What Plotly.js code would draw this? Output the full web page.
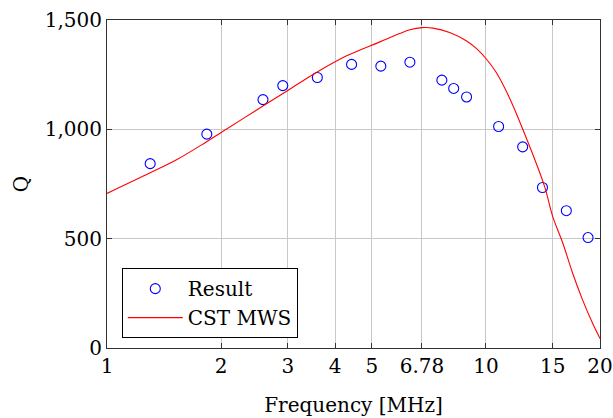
<!DOCTYPE html>
<html>
<head>
<meta charset="utf-8">
<script src="https://cdn.plot.ly/plotly-3.0.1.min.js"></script>
<style>html,body{margin:0;padding:0;background:#fff;}#chart{width:613px;height:418px;}</style>
</head>
<body>
<div id="chart"></div>
<script>
// Measured results
const resultFreq = [1.30, 1.834, 2.58, 2.91, 3.59, 4.42, 5.28, 6.30, 7.65, 8.22, 8.89, 10.8, 12.5, 14.1, 16.3, 18.6];
const resultQ    = [843, 978, 1136, 1200, 1237, 1297, 1289, 1307, 1225, 1187, 1148, 1013, 920, 734, 628, 505];

// CST MWS simulation curve
const cstFreq = [1.0, 1.3, 1.53, 1.815, 2.01, 2.46, 3.0, 3.57, 4.29, 5.25, 5.92, 6.3, 6.78, 7.25, 8.02, 8.87, 9.43, 10.0, 10.65, 11.42, 12.51, 14.27, 15.0, 15.95, 16.93, 17.99, 19.12, 20.0];
const cstQ    = [707, 801, 862, 939, 988, 1084, 1178, 1260, 1336, 1400, 1438, 1455, 1465, 1463, 1443, 1405, 1370, 1324, 1260, 1160, 1000, 740, 602, 480, 343, 220, 113, 44];

const xTickVals = [1, 2, 3, 4, 5, 6.78, 10, 15, 20];
const xTickText = ['1', '2', '3', '4', '5', '6.78', '10', '15', '20'];
const yTickVals = [0, 500, 1000, 1500];
const yTickText = ['0', '500', '1,000', '1,500'];

const FONT = 'DejaVu Serif, serif';
const FS = 20;

const traces = [
  {
    x: resultFreq, y: resultQ, name: 'Result', type: 'scatter', mode: 'markers',
    marker: {symbol: 'circle-open', size: 10, color: '#0000ff', line: {width: 1.1, color: '#0000ff'}}
  },
  {
    x: cstFreq, y: cstQ, name: 'CST MWS', type: 'scatter', mode: 'lines',
    line: {color: '#ff0000', width: 1.1, shape: 'spline', smoothing: 1}
  }
];

const axisCommon = {
  showline: true, linecolor: '#333', linewidth: 1, mirror: 'allticks',
  ticks: 'inside', ticklen: 5, tickcolor: '#333', tickwidth: 1,
  showgrid: true, gridcolor: '#c8c8c8', gridwidth: 1, zeroline: false,
  tickfont: {family: FONT, size: FS, color: '#000'}
};

const layout = {
  width: 613, height: 418,
  margin: {l: 107, r: 13, t: 20, b: 70},
  paper_bgcolor: '#fff', plot_bgcolor: '#fff',
  font: {family: FONT, color: '#000'},
  showlegend: true,
  xaxis: Object.assign({}, axisCommon, {
    type: 'log', range: [0, Math.log10(20)],
    tickmode: 'array', tickvals: xTickVals, ticktext: xTickText,
    title: {text: 'Frequency [MHz]', font: {family: FONT, size: FS, color: '#000'}, standoff: 20}
  }),
  yaxis: Object.assign({}, axisCommon, {
    range: [0, 1500],
    tickmode: 'array', tickvals: yTickVals, ticktext: yTickText,
    title: {text: 'Q', font: {family: FONT, size: FS, color: '#000'}, standoff: 10}
  }),
  legend: {
    x: 0.03, y: 0.03, xanchor: 'left', yanchor: 'bottom',
    bgcolor: '#fff', bordercolor: '#000', borderwidth: 1,
    font: {family: FONT, size: FS, color: '#000'},
    itemwidth: 55, tracegroupgap: 0
  }
};

Plotly.newPlot('chart', traces, layout, {displayModeBar: false, staticPlot: true});
</script>
</body>
</html>
